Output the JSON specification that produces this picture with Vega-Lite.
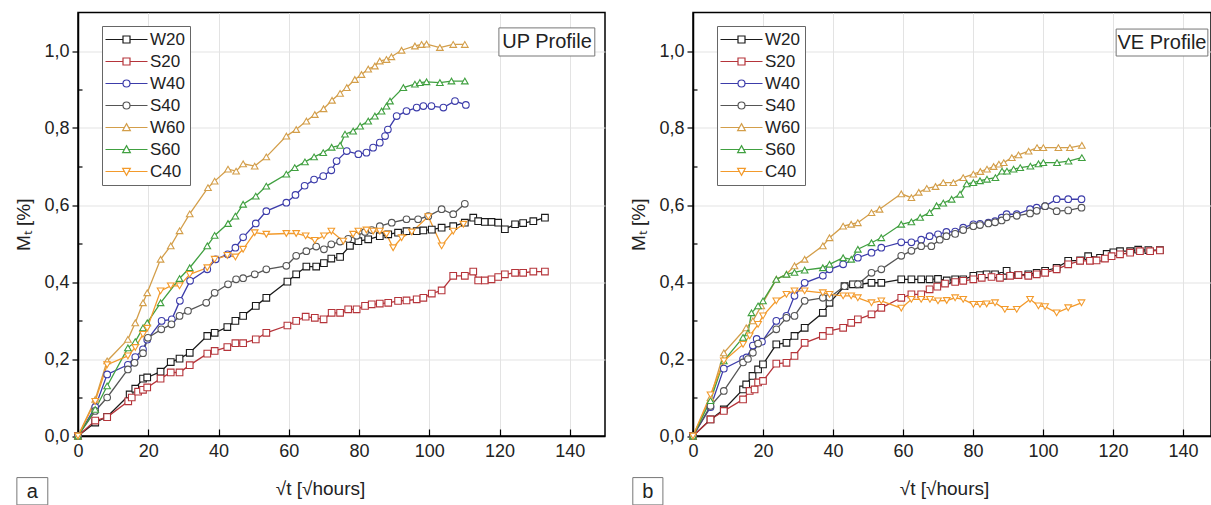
{
"$schema":"https://vega.github.io/schema/vega-lite/v6.json",
"padding":{"left":14,"top":11.5,"right":0,"bottom":0},
"bounds":"flush",
"spacing":88,
"config":{
 "font":"Liberation Sans",
 "view":{"stroke":"#000","strokeWidth":1.5},
 "axis":{"domainColor":"#000","domainWidth":1.5,"tickColor":"#000","tickWidth":1.2,"labelFont":"Liberation Sans","labelFontSize":18,"labelColor":"#222","titleFont":"Liberation Sans","titleFontSize":19,"titleFontWeight":"normal","titleColor":"#222","gridColor":"#e3e3e3","gridWidth":1,"labelFlush":false,"labelOverlap":false}
},
"datasets":{
"up":[
{"s":"W20","x":0,"y":0},{"s":"W20","x":4.9,"y":0.035},{"s":"W20","x":8.3,"y":0.05},{"s":"W20","x":14.7,"y":0.108},{"s":"W20","x":16.3,"y":0.123},{"s":"W20","x":18.5,"y":0.149},{"s":"W20","x":19.7,"y":0.152},{"s":"W20","x":23.5,"y":0.167},{"s":"W20","x":26.4,"y":0.192},{"s":"W20","x":28.9,"y":0.201},{"s":"W20","x":31.8,"y":0.216},{"s":"W20","x":36.8,"y":0.26},{"s":"W20","x":38.9,"y":0.268},{"s":"W20","x":42.5,"y":0.283},{"s":"W20","x":44.8,"y":0.299},{"s":"W20","x":47,"y":0.312},{"s":"W20","x":50.6,"y":0.338},{"s":"W20","x":53.6,"y":0.359},{"s":"W20","x":59.6,"y":0.401},{"s":"W20","x":62.1,"y":0.42},{"s":"W20","x":65,"y":0.44},{"s":"W20","x":67.8,"y":0.44},{"s":"W20","x":70,"y":0.449},{"s":"W20","x":72.1,"y":0.461},{"s":"W20","x":74.6,"y":0.465},{"s":"W20","x":77.4,"y":0.494},{"s":"W20","x":79.8,"y":0.506},{"s":"W20","x":82.6,"y":0.511},{"s":"W20","x":85.9,"y":0.519},{"s":"W20","x":88.3,"y":0.524},{"s":"W20","x":91.1,"y":0.528},{"s":"W20","x":93.5,"y":0.532},{"s":"W20","x":96.4,"y":0.532},{"s":"W20","x":98.3,"y":0.534},{"s":"W20","x":100.7,"y":0.536},{"s":"W20","x":103.5,"y":0.541},{"s":"W20","x":106.8,"y":0.545},{"s":"W20","x":110.1,"y":0.554},{"s":"W20","x":112.5,"y":0.567},{"s":"W20","x":113.9,"y":0.558},{"s":"W20","x":115.8,"y":0.556},{"s":"W20","x":117.7,"y":0.556},{"s":"W20","x":119.6,"y":0.554},{"s":"W20","x":121.5,"y":0.537},{"s":"W20","x":124.4,"y":0.55},{"s":"W20","x":126.7,"y":0.553},{"s":"W20","x":129.6,"y":0.558},{"s":"W20","x":132.9,"y":0.567},
{"s":"S20","x":0,"y":0},{"s":"S20","x":4.9,"y":0.04},{"s":"S20","x":8.3,"y":0.049},{"s":"S20","x":14.3,"y":0.09},{"s":"S20","x":15.3,"y":0.1},{"s":"S20","x":17.1,"y":0.115},{"s":"S20","x":18.5,"y":0.12},{"s":"S20","x":19.7,"y":0.126},{"s":"S20","x":23.5,"y":0.149},{"s":"S20","x":26.4,"y":0.165},{"s":"S20","x":28.9,"y":0.165},{"s":"S20","x":31.8,"y":0.184},{"s":"S20","x":36.8,"y":0.214},{"s":"S20","x":38.9,"y":0.221},{"s":"S20","x":42.5,"y":0.231},{"s":"S20","x":44.8,"y":0.241},{"s":"S20","x":47,"y":0.241},{"s":"S20","x":50.6,"y":0.251},{"s":"S20","x":53.6,"y":0.268},{"s":"S20","x":59.6,"y":0.287},{"s":"S20","x":62.1,"y":0.299},{"s":"S20","x":64.8,"y":0.31},{"s":"S20","x":67.4,"y":0.307},{"s":"S20","x":69.9,"y":0.303},{"s":"S20","x":72.2,"y":0.32},{"s":"S20","x":74.6,"y":0.32},{"s":"S20","x":76.9,"y":0.329},{"s":"S20","x":79.3,"y":0.329},{"s":"S20","x":81.7,"y":0.338},{"s":"S20","x":83.6,"y":0.342},{"s":"S20","x":85.9,"y":0.344},{"s":"S20","x":88.3,"y":0.346},{"s":"S20","x":91.1,"y":0.351},{"s":"S20","x":93.5,"y":0.352},{"s":"S20","x":96.4,"y":0.355},{"s":"S20","x":98.3,"y":0.359},{"s":"S20","x":100.7,"y":0.37},{"s":"S20","x":103.5,"y":0.378},{"s":"S20","x":106.8,"y":0.416},{"s":"S20","x":110.1,"y":0.416},{"s":"S20","x":112.5,"y":0.427},{"s":"S20","x":113.9,"y":0.404},{"s":"S20","x":115.8,"y":0.404},{"s":"S20","x":117.7,"y":0.407},{"s":"S20","x":119.6,"y":0.413},{"s":"S20","x":121.5,"y":0.42},{"s":"S20","x":124.4,"y":0.424},{"s":"S20","x":126.7,"y":0.424},{"s":"S20","x":129.6,"y":0.427},{"s":"S20","x":132.9,"y":0.427},
{"s":"W40","x":0,"y":0},{"s":"W40","x":4.9,"y":0.075},{"s":"W40","x":8.3,"y":0.16},{"s":"W40","x":14.2,"y":0.185},{"s":"W40","x":16.3,"y":0.205},{"s":"W40","x":18.5,"y":0.225},{"s":"W40","x":19.7,"y":0.25},{"s":"W40","x":23.8,"y":0.299},{"s":"W40","x":26.7,"y":0.303},{"s":"W40","x":29,"y":0.351},{"s":"W40","x":31.9,"y":0.403},{"s":"W40","x":36.8,"y":0.433},{"s":"W40","x":39.2,"y":0.459},{"s":"W40","x":42.6,"y":0.472},{"s":"W40","x":44.8,"y":0.489},{"s":"W40","x":47,"y":0.516},{"s":"W40","x":50.6,"y":0.552},{"s":"W40","x":53.6,"y":0.584},{"s":"W40","x":59.3,"y":0.606},{"s":"W40","x":61.9,"y":0.626},{"s":"W40","x":64.5,"y":0.65},{"s":"W40","x":67.2,"y":0.666},{"s":"W40","x":69.8,"y":0.675},{"s":"W40","x":72.1,"y":0.69},{"s":"W40","x":73.6,"y":0.714},{"s":"W40","x":76.5,"y":0.74},{"s":"W40","x":79.8,"y":0.732},{"s":"W40","x":82.1,"y":0.736},{"s":"W40","x":84,"y":0.749},{"s":"W40","x":85.9,"y":0.762},{"s":"W40","x":87.4,"y":0.779},{"s":"W40","x":88.2,"y":0.796},{"s":"W40","x":90.7,"y":0.831},{"s":"W40","x":93.5,"y":0.844},{"s":"W40","x":96.4,"y":0.853},{"s":"W40","x":98.3,"y":0.857},{"s":"W40","x":100.6,"y":0.857},{"s":"W40","x":104,"y":0.853},{"s":"W40","x":107.3,"y":0.87},{"s":"W40","x":110.4,"y":0.86},
{"s":"S40","x":0,"y":0},{"s":"S40","x":4.9,"y":0.065},{"s":"S40","x":8.3,"y":0.1},{"s":"S40","x":14.2,"y":0.173},{"s":"S40","x":16.1,"y":0.19},{"s":"S40","x":18.5,"y":0.215},{"s":"S40","x":19.9,"y":0.255},{"s":"S40","x":23.7,"y":0.277},{"s":"S40","x":26.6,"y":0.29},{"s":"S40","x":28.9,"y":0.312},{"s":"S40","x":31.3,"y":0.325},{"s":"S40","x":36.5,"y":0.346},{"s":"S40","x":38.9,"y":0.372},{"s":"S40","x":42.7,"y":0.394},{"s":"S40","x":45,"y":0.407},{"s":"S40","x":47,"y":0.41},{"s":"S40","x":50.3,"y":0.42},{"s":"S40","x":53.6,"y":0.433},{"s":"S40","x":59.3,"y":0.442},{"s":"S40","x":62.1,"y":0.468},{"s":"S40","x":65,"y":0.48},{"s":"S40","x":67.8,"y":0.492},{"s":"S40","x":70,"y":0.485},{"s":"S40","x":72.1,"y":0.498},{"s":"S40","x":74.6,"y":0.505},{"s":"S40","x":76.9,"y":0.512},{"s":"S40","x":79.3,"y":0.52},{"s":"S40","x":81.7,"y":0.53},{"s":"S40","x":83.6,"y":0.535},{"s":"S40","x":85.9,"y":0.545},{"s":"S40","x":89.3,"y":0.554},{"s":"S40","x":93.5,"y":0.563},{"s":"S40","x":96.8,"y":0.563},{"s":"S40","x":99.7,"y":0.571},{"s":"S40","x":103.5,"y":0.589},{"s":"S40","x":106.8,"y":0.576},{"s":"S40","x":110.1,"y":0.603},
{"s":"W60","x":0,"y":0},{"s":"W60","x":4.9,"y":0.095},{"s":"W60","x":8.3,"y":0.195},{"s":"W60","x":14.2,"y":0.251},{"s":"W60","x":16.3,"y":0.294},{"s":"W60","x":18.5,"y":0.346},{"s":"W60","x":19.7,"y":0.372},{"s":"W60","x":23.5,"y":0.459},{"s":"W60","x":26.4,"y":0.494},{"s":"W60","x":28.9,"y":0.533},{"s":"W60","x":31.8,"y":0.577},{"s":"W60","x":37,"y":0.645},{"s":"W60","x":38.9,"y":0.662},{"s":"W60","x":42.7,"y":0.693},{"s":"W60","x":45,"y":0.688},{"s":"W60","x":47,"y":0.707},{"s":"W60","x":50.3,"y":0.701},{"s":"W60","x":53.6,"y":0.725},{"s":"W60","x":59.3,"y":0.779},{"s":"W60","x":62.1,"y":0.796},{"s":"W60","x":65,"y":0.818},{"s":"W60","x":67.4,"y":0.835},{"s":"W60","x":69.9,"y":0.85},{"s":"W60","x":72.3,"y":0.872},{"s":"W60","x":74.6,"y":0.89},{"s":"W60","x":76.5,"y":0.905},{"s":"W60","x":78.8,"y":0.926},{"s":"W60","x":80.7,"y":0.939},{"s":"W60","x":82.6,"y":0.953},{"s":"W60","x":84.5,"y":0.961},{"s":"W60","x":85.9,"y":0.974},{"s":"W60","x":87.8,"y":0.978},{"s":"W60","x":89.2,"y":0.985},{"s":"W60","x":92.1,"y":1.002},{"s":"W60","x":95.9,"y":1.013},{"s":"W60","x":97.8,"y":1.017},{"s":"W60","x":99.2,"y":1.018},{"s":"W60","x":103,"y":1.009},{"s":"W60","x":106.8,"y":1.017},{"s":"W60","x":110.1,"y":1.017},
{"s":"S60","x":0,"y":0},{"s":"S60","x":4.9,"y":0.069},{"s":"S60","x":8.3,"y":0.13},{"s":"S60","x":14.2,"y":0.229},{"s":"S60","x":16.3,"y":0.245},{"s":"S60","x":18.5,"y":0.281},{"s":"S60","x":19.7,"y":0.294},{"s":"S60","x":23.5,"y":0.346},{"s":"S60","x":28.9,"y":0.409},{"s":"S60","x":31.8,"y":0.437},{"s":"S60","x":36.8,"y":0.494},{"s":"S60","x":38.9,"y":0.521},{"s":"S60","x":42.7,"y":0.552},{"s":"S60","x":44.8,"y":0.571},{"s":"S60","x":47,"y":0.602},{"s":"S60","x":50.6,"y":0.623},{"s":"S60","x":53.6,"y":0.649},{"s":"S60","x":59.3,"y":0.68},{"s":"S60","x":61.7,"y":0.697},{"s":"S60","x":64.6,"y":0.712},{"s":"S60","x":67.2,"y":0.725},{"s":"S60","x":69.8,"y":0.736},{"s":"S60","x":72.2,"y":0.75},{"s":"S60","x":74.6,"y":0.755},{"s":"S60","x":76,"y":0.784},{"s":"S60","x":78.3,"y":0.792},{"s":"S60","x":80.3,"y":0.805},{"s":"S60","x":82.6,"y":0.818},{"s":"S60","x":84.5,"y":0.831},{"s":"S60","x":86.4,"y":0.844},{"s":"S60","x":87.8,"y":0.857},{"s":"S60","x":88.8,"y":0.87},{"s":"S60","x":92.6,"y":0.905},{"s":"S60","x":95.9,"y":0.914},{"s":"S60","x":97.3,"y":0.918},{"s":"S60","x":99.2,"y":0.92},{"s":"S60","x":103,"y":0.918},{"s":"S60","x":106.3,"y":0.922},{"s":"S60","x":110.1,"y":0.922},
{"s":"C40","x":0,"y":0},{"s":"C40","x":4.9,"y":0.09},{"s":"C40","x":8.3,"y":0.185},{"s":"C40","x":14.2,"y":0.208},{"s":"C40","x":16.3,"y":0.23},{"s":"C40","x":18.5,"y":0.264},{"s":"C40","x":19.7,"y":0.28},{"s":"C40","x":23.5,"y":0.377},{"s":"C40","x":26.4,"y":0.39},{"s":"C40","x":28.9,"y":0.39},{"s":"C40","x":31.8,"y":0.42},{"s":"C40","x":36.8,"y":0.437},{"s":"C40","x":38.9,"y":0.459},{"s":"C40","x":42.5,"y":0.469},{"s":"C40","x":44.8,"y":0.465},{"s":"C40","x":47,"y":0.485},{"s":"C40","x":50.3,"y":0.528},{"s":"C40","x":53.6,"y":0.524},{"s":"C40","x":59.3,"y":0.526},{"s":"C40","x":62.1,"y":0.526},{"s":"C40","x":64.8,"y":0.52},{"s":"C40","x":67.4,"y":0.508},{"s":"C40","x":70,"y":0.52},{"s":"C40","x":72.1,"y":0.532},{"s":"C40","x":75.5,"y":0.506},{"s":"C40","x":78.3,"y":0.524},{"s":"C40","x":79.8,"y":0.532},{"s":"C40","x":82.1,"y":0.535},{"s":"C40","x":84,"y":0.532},{"s":"C40","x":85.9,"y":0.532},{"s":"C40","x":87.8,"y":0.524},{"s":"C40","x":89.7,"y":0.489},{"s":"C40","x":92.1,"y":0.515},{"s":"C40","x":95,"y":0.53},{"s":"C40","x":99.7,"y":0.57},{"s":"C40","x":103.5,"y":0.494},{"s":"C40","x":106.8,"y":0.532},{"s":"C40","x":109.7,"y":0.55}
],
"ve":[
{"s":"W20","x":0,"y":0},{"s":"W20","x":5,"y":0.043},{"s":"W20","x":8.8,"y":0.069},{"s":"W20","x":14.3,"y":0.121},{"s":"W20","x":15.2,"y":0.134},{"s":"W20","x":17,"y":0.156},{"s":"W20","x":18.6,"y":0.173},{"s":"W20","x":20,"y":0.186},{"s":"W20","x":23.8,"y":0.238},{"s":"W20","x":26.7,"y":0.242},{"s":"W20","x":29,"y":0.26},{"s":"W20","x":31.9,"y":0.281},{"s":"W20","x":37.1,"y":0.32},{"s":"W20","x":39,"y":0.346},{"s":"W20","x":43.3,"y":0.389},{"s":"W20","x":45.7,"y":0.394},{"s":"W20","x":47.6,"y":0.394},{"s":"W20","x":51,"y":0.398},{"s":"W20","x":53.8,"y":0.398},{"s":"W20","x":59.5,"y":0.407},{"s":"W20","x":62.4,"y":0.407},{"s":"W20","x":65.2,"y":0.407},{"s":"W20","x":67.6,"y":0.407},{"s":"W20","x":70,"y":0.408},{"s":"W20","x":72.5,"y":0.404},{"s":"W20","x":74.9,"y":0.407},{"s":"W20","x":77.2,"y":0.407},{"s":"W20","x":80.1,"y":0.416},{"s":"W20","x":82,"y":0.418},{"s":"W20","x":83.9,"y":0.42},{"s":"W20","x":86.3,"y":0.42},{"s":"W20","x":88.6,"y":0.416},{"s":"W20","x":89.6,"y":0.429},{"s":"W20","x":92.9,"y":0.418},{"s":"W20","x":95.8,"y":0.42},{"s":"W20","x":98.2,"y":0.424},{"s":"W20","x":100.6,"y":0.429},{"s":"W20","x":103.9,"y":0.437},{"s":"W20","x":107.2,"y":0.455},{"s":"W20","x":110.6,"y":0.456},{"s":"W20","x":112.9,"y":0.467},{"s":"W20","x":116.3,"y":0.463},{"s":"W20","x":118.2,"y":0.473},{"s":"W20","x":120.1,"y":0.477},{"s":"W20","x":122,"y":0.48},{"s":"W20","x":124.9,"y":0.48},{"s":"W20","x":127.2,"y":0.484},{"s":"W20","x":130.1,"y":0.483},{"s":"W20","x":133.4,"y":0.483},
{"s":"S20","x":0,"y":0},{"s":"S20","x":5,"y":0.043},{"s":"S20","x":8.8,"y":0.065},{"s":"S20","x":14.3,"y":0.095},{"s":"S20","x":16.2,"y":0.117},{"s":"S20","x":17.6,"y":0.121},{"s":"S20","x":18.6,"y":0.139},{"s":"S20","x":20,"y":0.143},{"s":"S20","x":23.8,"y":0.188},{"s":"S20","x":26.7,"y":0.19},{"s":"S20","x":29,"y":0.208},{"s":"S20","x":31.9,"y":0.242},{"s":"S20","x":37.1,"y":0.26},{"s":"S20","x":39,"y":0.273},{"s":"S20","x":42.9,"y":0.281},{"s":"S20","x":45.2,"y":0.294},{"s":"S20","x":47.1,"y":0.303},{"s":"S20","x":51,"y":0.316},{"s":"S20","x":53.8,"y":0.333},{"s":"S20","x":59.5,"y":0.359},{"s":"S20","x":62.4,"y":0.368},{"s":"S20","x":65.2,"y":0.368},{"s":"S20","x":67.6,"y":0.381},{"s":"S20","x":69.8,"y":0.388},{"s":"S20","x":72,"y":0.396},{"s":"S20","x":74.9,"y":0.4},{"s":"S20","x":77.2,"y":0.403},{"s":"S20","x":80.1,"y":0.407},{"s":"S20","x":82.5,"y":0.411},{"s":"S20","x":85.3,"y":0.413},{"s":"S20","x":87.7,"y":0.411},{"s":"S20","x":90.6,"y":0.416},{"s":"S20","x":93,"y":0.418},{"s":"S20","x":95.8,"y":0.416},{"s":"S20","x":98.2,"y":0.42},{"s":"S20","x":100.6,"y":0.424},{"s":"S20","x":103.9,"y":0.433},{"s":"S20","x":107.2,"y":0.446},{"s":"S20","x":110.6,"y":0.455},{"s":"S20","x":113.4,"y":0.455},{"s":"S20","x":115.3,"y":0.456},{"s":"S20","x":117.7,"y":0.461},{"s":"S20","x":119.6,"y":0.467},{"s":"S20","x":122,"y":0.472},{"s":"S20","x":124.9,"y":0.476},{"s":"S20","x":127.7,"y":0.48},{"s":"S20","x":130.6,"y":0.48},{"s":"S20","x":133.4,"y":0.482},
{"s":"W40","x":0,"y":0},{"s":"W40","x":5,"y":0.075},{"s":"W40","x":8.8,"y":0.175},{"s":"W40","x":14.3,"y":0.2},{"s":"W40","x":15.3,"y":0.204},{"s":"W40","x":17.1,"y":0.235},{"s":"W40","x":18.2,"y":0.252},{"s":"W40","x":19.7,"y":0.245},{"s":"W40","x":23.8,"y":0.299},{"s":"W40","x":26.7,"y":0.312},{"s":"W40","x":29,"y":0.364},{"s":"W40","x":31.9,"y":0.398},{"s":"W40","x":37.1,"y":0.416},{"s":"W40","x":39,"y":0.433},{"s":"W40","x":42.9,"y":0.446},{"s":"W40","x":47.1,"y":0.463},{"s":"W40","x":51,"y":0.476},{"s":"W40","x":53.8,"y":0.489},{"s":"W40","x":59.5,"y":0.503},{"s":"W40","x":62.4,"y":0.503},{"s":"W40","x":65.2,"y":0.51},{"s":"W40","x":67.6,"y":0.519},{"s":"W40","x":70,"y":0.524},{"s":"W40","x":72.4,"y":0.53},{"s":"W40","x":74.9,"y":0.531},{"s":"W40","x":77.2,"y":0.541},{"s":"W40","x":80.1,"y":0.55},{"s":"W40","x":82,"y":0.551},{"s":"W40","x":84.4,"y":0.554},{"s":"W40","x":86.3,"y":0.558},{"s":"W40","x":88.2,"y":0.567},{"s":"W40","x":89.6,"y":0.576},{"s":"W40","x":92.5,"y":0.576},{"s":"W40","x":96.3,"y":0.589},{"s":"W40","x":98.2,"y":0.593},{"s":"W40","x":100.6,"y":0.597},{"s":"W40","x":103.9,"y":0.615},{"s":"W40","x":107.2,"y":0.615},{"s":"W40","x":111,"y":0.615},
{"s":"S40","x":0,"y":0},{"s":"S40","x":5,"y":0.078},{"s":"S40","x":8.8,"y":0.117},{"s":"S40","x":14.3,"y":0.191},{"s":"S40","x":15.7,"y":0.2},{"s":"S40","x":17.1,"y":0.216},{"s":"S40","x":18.6,"y":0.24},{"s":"S40","x":23.8,"y":0.277},{"s":"S40","x":26.7,"y":0.307},{"s":"S40","x":29,"y":0.312},{"s":"S40","x":31.9,"y":0.351},{"s":"S40","x":37.1,"y":0.359},{"s":"S40","x":39,"y":0.36},{"s":"S40","x":43.3,"y":0.389},{"s":"S40","x":47.1,"y":0.394},{"s":"S40","x":51,"y":0.424},{"s":"S40","x":53.8,"y":0.433},{"s":"S40","x":59.5,"y":0.468},{"s":"S40","x":62.4,"y":0.481},{"s":"S40","x":65.2,"y":0.493},{"s":"S40","x":68.1,"y":0.493},{"s":"S40","x":70.5,"y":0.51},{"s":"S40","x":72.4,"y":0.519},{"s":"S40","x":74.9,"y":0.525},{"s":"S40","x":77.2,"y":0.535},{"s":"S40","x":80.1,"y":0.545},{"s":"S40","x":82,"y":0.548},{"s":"S40","x":84.4,"y":0.552},{"s":"S40","x":86.3,"y":0.555},{"s":"S40","x":88.2,"y":0.56},{"s":"S40","x":89.6,"y":0.568},{"s":"S40","x":92.5,"y":0.572},{"s":"S40","x":96.3,"y":0.578},{"s":"S40","x":98.2,"y":0.585},{"s":"S40","x":100.6,"y":0.597},{"s":"S40","x":103.9,"y":0.584},{"s":"S40","x":107.2,"y":0.586},{"s":"S40","x":111,"y":0.593},
{"s":"W60","x":0,"y":0},{"s":"W60","x":5,"y":0.1},{"s":"W60","x":8.8,"y":0.216},{"s":"W60","x":15.2,"y":0.281},{"s":"W60","x":17.1,"y":0.299},{"s":"W60","x":19.5,"y":0.338},{"s":"W60","x":23.8,"y":0.407},{"s":"W60","x":26.7,"y":0.42},{"s":"W60","x":29,"y":0.442},{"s":"W60","x":31.9,"y":0.459},{"s":"W60","x":37.1,"y":0.494},{"s":"W60","x":39,"y":0.515},{"s":"W60","x":42.9,"y":0.545},{"s":"W60","x":45.2,"y":0.55},{"s":"W60","x":47.1,"y":0.554},{"s":"W60","x":51,"y":0.58},{"s":"W60","x":53.3,"y":0.589},{"s":"W60","x":59.5,"y":0.629},{"s":"W60","x":62.4,"y":0.619},{"s":"W60","x":64.5,"y":0.633},{"s":"W60","x":66.8,"y":0.643},{"s":"W60","x":69.3,"y":0.648},{"s":"W60","x":71.5,"y":0.658},{"s":"W60","x":74.4,"y":0.658},{"s":"W60","x":77.2,"y":0.671},{"s":"W60","x":80.1,"y":0.68},{"s":"W60","x":82.1,"y":0.687},{"s":"W60","x":84,"y":0.693},{"s":"W60","x":85.9,"y":0.7},{"s":"W60","x":87.4,"y":0.706},{"s":"W60","x":88.8,"y":0.71},{"s":"W60","x":91.1,"y":0.723},{"s":"W60","x":93,"y":0.73},{"s":"W60","x":95.9,"y":0.74},{"s":"W60","x":98.3,"y":0.749},{"s":"W60","x":100.1,"y":0.749},{"s":"W60","x":104.4,"y":0.749},{"s":"W60","x":107.7,"y":0.749},{"s":"W60","x":111.1,"y":0.755},
{"s":"S60","x":0,"y":0},{"s":"S60","x":5,"y":0.092},{"s":"S60","x":8.8,"y":0.195},{"s":"S60","x":14.3,"y":0.256},{"s":"S60","x":15.7,"y":0.268},{"s":"S60","x":16.7,"y":0.32},{"s":"S60","x":18.6,"y":0.338},{"s":"S60","x":20,"y":0.351},{"s":"S60","x":23.8,"y":0.407},{"s":"S60","x":26.7,"y":0.42},{"s":"S60","x":29,"y":0.425},{"s":"S60","x":31.9,"y":0.431},{"s":"S60","x":37.1,"y":0.437},{"s":"S60","x":39,"y":0.446},{"s":"S60","x":42.9,"y":0.463},{"s":"S60","x":45.2,"y":0.459},{"s":"S60","x":47.1,"y":0.485},{"s":"S60","x":51,"y":0.502},{"s":"S60","x":53.8,"y":0.515},{"s":"S60","x":59.5,"y":0.55},{"s":"S60","x":62.4,"y":0.556},{"s":"S60","x":64.9,"y":0.568},{"s":"S60","x":67.6,"y":0.58},{"s":"S60","x":69.6,"y":0.598},{"s":"S60","x":71.5,"y":0.605},{"s":"S60","x":73.9,"y":0.615},{"s":"S60","x":76.3,"y":0.628},{"s":"S60","x":78.2,"y":0.655},{"s":"S60","x":80.1,"y":0.658},{"s":"S60","x":82,"y":0.663},{"s":"S60","x":84,"y":0.667},{"s":"S60","x":86.4,"y":0.671},{"s":"S60","x":88.3,"y":0.688},{"s":"S60","x":89.7,"y":0.688},{"s":"S60","x":91.6,"y":0.693},{"s":"S60","x":93.5,"y":0.697},{"s":"S60","x":96.4,"y":0.701},{"s":"S60","x":98.7,"y":0.707},{"s":"S60","x":100.1,"y":0.71},{"s":"S60","x":104,"y":0.71},{"s":"S60","x":107.3,"y":0.714},{"s":"S60","x":111.1,"y":0.723},
{"s":"C40","x":0,"y":0},{"s":"C40","x":5,"y":0.107},{"s":"C40","x":8.8,"y":0.195},{"s":"C40","x":14.3,"y":0.238},{"s":"C40","x":16.2,"y":0.26},{"s":"C40","x":18.6,"y":0.29},{"s":"C40","x":20,"y":0.312},{"s":"C40","x":23.8,"y":0.351},{"s":"C40","x":26.7,"y":0.368},{"s":"C40","x":29,"y":0.377},{"s":"C40","x":31.9,"y":0.377},{"s":"C40","x":37.1,"y":0.372},{"s":"C40","x":39,"y":0.368},{"s":"C40","x":42.9,"y":0.364},{"s":"C40","x":45.2,"y":0.364},{"s":"C40","x":47.1,"y":0.359},{"s":"C40","x":51,"y":0.346},{"s":"C40","x":53.8,"y":0.351},{"s":"C40","x":59.5,"y":0.332},{"s":"C40","x":62.4,"y":0.355},{"s":"C40","x":65.2,"y":0.355},{"s":"C40","x":67.7,"y":0.355},{"s":"C40","x":70,"y":0.351},{"s":"C40","x":72.5,"y":0.352},{"s":"C40","x":74.9,"y":0.359},{"s":"C40","x":77.2,"y":0.355},{"s":"C40","x":80.1,"y":0.342},{"s":"C40","x":82,"y":0.342},{"s":"C40","x":83.9,"y":0.343},{"s":"C40","x":86.3,"y":0.346},{"s":"C40","x":89.1,"y":0.329},{"s":"C40","x":92.5,"y":0.329},{"s":"C40","x":96.3,"y":0.355},{"s":"C40","x":98.7,"y":0.338},{"s":"C40","x":100.6,"y":0.336},{"s":"C40","x":103.9,"y":0.32},{"s":"C40","x":107.2,"y":0.333},{"s":"C40","x":111,"y":0.346}
]
},
"hconcat":[
{
 "width":527,"height":423.5,
 "layer":[
  {"data":{"name":"up"},
   "encoding":{
    "x":{"field":"x","type":"quantitative","scale":{"domain":[0,150],"nice":false,"zero":false},"axis":{"values":[0,10,20,30,40,50,60,70,80,90,100,110,120,130,140,150],"labelExpr":"datum.value % 20 == 0 ? datum.value : ''","tickSize":{"condition":{"test":"datum.value % 20 == 0","value":-7},"value":-4},"labelPadding":13,"title":"√t  [√hours]","titleX":242,"titlePadding":19}},
    "y":{"field":"y","type":"quantitative","scale":{"domain":[0,1.1],"nice":false,"zero":false},"axis":{"values":[0,0.1,0.2,0.3,0.4,0.5,0.6,0.7,0.8,0.9,1.0],"labelExpr":"round(datum.value*10)%2==0 ? replace(format(datum.value,'.1f'),'.',',') : ''","tickSize":{"condition":{"test":"round(datum.value*10)%2==0","value":6},"value":-4},"gridOpacity":{"condition":{"test":"round(datum.value*10)%2==0","value":1},"value":0},"labelPadding":3,"title":"Mₜ [%]","titlePadding":10}},
    "color":{"field":"s","type":"nominal","scale":{"domain":["W20","S20","W40","S40","W60","S60","C40"],"range":["#1a1a1a","#b5343a","#3c3caa","#555555","#d39e4a","#40a040","#f39a2b"]},"legend":null}
   },
   "layer":[
    {"mark":{"type":"line","strokeWidth":1.3}},
    {"mark":{"type":"point","filled":false,"fill":"white","strokeWidth":1.1,"size":44,"opacity":1},"encoding":{"shape":{"field":"s","type":"nominal","scale":{"domain":["W20","S20","W40","S40","W60","S60","C40"],"range":["square","square","circle","circle","triangle-up","triangle-up","triangle-down"]},"legend":null}}}
  ]},
  {"data":{"name":"up"},"transform":[{"filter":"false"}],
   "mark":{"type":"point","filled":false,"fill":"white","strokeWidth":1.2,"opacity":1},
   "encoding":{
    "color":{"field":"s","type":"nominal","scale":{"domain":["W20","S20","W40","S40","W60","S60","C40"],"range":["#1a1a1a","#b5343a","#3c3caa","#555555","#d39e4a","#40a040","#f39a2b"]},"legend":{"title":null,"orient":"none","legendX":24,"legendY":13.5,"symbolSize":196,"symbolOffset":11,"labelOffset":15,"labelFontSize":17,"labelFont":"Liberation Sans","labelColor":"#222","rowPadding":4,"padding":5,"strokeColor":"#666","fillColor":"white","symbolStrokeWidth":1.2}},
    "shape":{"field":"s","type":"nominal","scale":{"domain":["W20","S20","W40","S40","W60","S60","C40"],"range":["M-3,0H-0.5M0.5,0H3M-0.5,-0.5H0.5V0.5H-0.5Z","M-3,0H-0.5M0.5,0H3M-0.5,-0.5H0.5V0.5H-0.5Z","M-3,0H-0.5M0.5,0H3M-0.5,0A0.5,0.5,0,1,0,0.5,0A0.5,0.5,0,1,0,-0.5,0Z","M-3,0H-0.5M0.5,0H3M-0.5,0A0.5,0.5,0,1,0,0.5,0A0.5,0.5,0,1,0,-0.5,0Z","M-3,0H-0.3M0.3,0H3M0,-0.55L0.55,0.45H-0.55Z","M-3,0H-0.3M0.3,0H3M0,-0.55L0.55,0.45H-0.55Z","M-3,0H-0.3M0.3,0H3M0,0.55L0.55,-0.45H-0.55Z"]},"legend":{"title":null,"orient":"none","legendX":24,"legendY":13.5,"symbolSize":196,"symbolOffset":11,"labelOffset":15,"labelFontSize":17,"labelFont":"Liberation Sans","labelColor":"#222","rowPadding":4,"padding":5,"strokeColor":"#666","fillColor":"white","symbolStrokeWidth":1.2}}
   }},
  {"data":{"values":[{"t":"UP Profile"}]},"mark":{"type":"rect","fill":"white","stroke":"#777","strokeWidth":1},"encoding":{"x":{"datum":119.8},"x2":{"datum":147.1},"y":{"datum":1.06},"y2":{"datum":0.987}}},
  {"data":{"values":[{"t":"UP Profile"}]},"mark":{"type":"text","fontSize":20,"font":"Liberation Sans","color":"#222"},"encoding":{"x":{"datum":133.5},"y":{"datum":1.023},"text":{"field":"t"}}},
  {"data":{"values":[{"t":"a"}]},"mark":{"type":"rect","fill":"white","stroke":"#777","strokeWidth":1},"encoding":{"x":{"datum":-17.4},"x2":{"datum":-8.6},"y":{"datum":-0.108},"y2":{"datum":-0.179}}},
  {"data":{"values":[{"t":"a"}]},"mark":{"type":"text","fontSize":20,"font":"Liberation Sans","color":"#222"},"encoding":{"x":{"datum":-13},"y":{"datum":-0.146},"text":{"field":"t"}}}
 ],
 "resolve":{"scale":{"color":"independent","shape":"independent"}}
},
{
 "width":518,"height":423.5,
 "layer":[
  {"data":{"name":"ve"},
   "encoding":{
    "x":{"field":"x","type":"quantitative","scale":{"domain":[0,148],"nice":false,"zero":false},"axis":{"values":[0,10,20,30,40,50,60,70,80,90,100,110,120,130,140],"labelExpr":"datum.value % 20 == 0 ? datum.value : ''","tickSize":{"condition":{"test":"datum.value % 20 == 0","value":-7},"value":-4},"labelPadding":13,"title":"√t  [√hours]","titleX":251,"titlePadding":19}},
    "y":{"field":"y","type":"quantitative","scale":{"domain":[0,1.1],"nice":false,"zero":false},"axis":{"values":[0,0.1,0.2,0.3,0.4,0.5,0.6,0.7,0.8,0.9,1.0],"labelExpr":"round(datum.value*10)%2==0 ? replace(format(datum.value,'.1f'),'.',',') : ''","tickSize":{"condition":{"test":"round(datum.value*10)%2==0","value":6},"value":-4},"gridOpacity":{"condition":{"test":"round(datum.value*10)%2==0","value":1},"value":0},"labelPadding":3,"title":"Mₜ [%]","titlePadding":10}},
    "color":{"field":"s","type":"nominal","scale":{"domain":["W20","S20","W40","S40","W60","S60","C40"],"range":["#1a1a1a","#b5343a","#3c3caa","#555555","#d39e4a","#40a040","#f39a2b"]},"legend":null}
   },
   "layer":[
    {"mark":{"type":"line","strokeWidth":1.3}},
    {"mark":{"type":"point","filled":false,"fill":"white","strokeWidth":1.1,"size":44,"opacity":1},"encoding":{"shape":{"field":"s","type":"nominal","scale":{"domain":["W20","S20","W40","S40","W60","S60","C40"],"range":["square","square","circle","circle","triangle-up","triangle-up","triangle-down"]},"legend":null}}}
  ]},
  {"data":{"name":"ve"},"transform":[{"filter":"false"}],
   "mark":{"type":"point","filled":false,"fill":"white","strokeWidth":1.2,"opacity":1},
   "encoding":{
    "color":{"field":"s","type":"nominal","scale":{"domain":["W20","S20","W40","S40","W60","S60","C40"],"range":["#1a1a1a","#b5343a","#3c3caa","#555555","#d39e4a","#40a040","#f39a2b"]},"legend":{"title":null,"orient":"none","legendX":24,"legendY":13.5,"symbolSize":196,"symbolOffset":11,"labelOffset":15,"labelFontSize":17,"labelFont":"Liberation Sans","labelColor":"#222","rowPadding":4,"padding":5,"strokeColor":"#666","fillColor":"white","symbolStrokeWidth":1.2}},
    "shape":{"field":"s","type":"nominal","scale":{"domain":["W20","S20","W40","S40","W60","S60","C40"],"range":["M-3,0H-0.5M0.5,0H3M-0.5,-0.5H0.5V0.5H-0.5Z","M-3,0H-0.5M0.5,0H3M-0.5,-0.5H0.5V0.5H-0.5Z","M-3,0H-0.5M0.5,0H3M-0.5,0A0.5,0.5,0,1,0,0.5,0A0.5,0.5,0,1,0,-0.5,0Z","M-3,0H-0.5M0.5,0H3M-0.5,0A0.5,0.5,0,1,0,0.5,0A0.5,0.5,0,1,0,-0.5,0Z","M-3,0H-0.3M0.3,0H3M0,-0.55L0.55,0.45H-0.55Z","M-3,0H-0.3M0.3,0H3M0,-0.55L0.55,0.45H-0.55Z","M-3,0H-0.3M0.3,0H3M0,0.55L0.55,-0.45H-0.55Z"]},"legend":{"title":null,"orient":"none","legendX":24,"legendY":13.5,"symbolSize":196,"symbolOffset":11,"labelOffset":15,"labelFontSize":17,"labelFont":"Liberation Sans","labelColor":"#222","rowPadding":4,"padding":5,"strokeColor":"#666","fillColor":"white","symbolStrokeWidth":1.2}}
   }},
  {"data":{"values":[{"t":"VE Profile"}]},"mark":{"type":"rect","fill":"white","stroke":"#777","strokeWidth":1},"encoding":{"x":{"datum":120.9},"x2":{"datum":147.1},"y":{"datum":1.057},"y2":{"datum":0.987}}},
  {"data":{"values":[{"t":"VE Profile"}]},"mark":{"type":"text","fontSize":20,"font":"Liberation Sans","color":"#222"},"encoding":{"x":{"datum":134},"y":{"datum":1.022},"text":{"field":"t"}}},
  {"data":{"values":[{"t":"b"}]},"mark":{"type":"rect","fill":"white","stroke":"#777","strokeWidth":1},"encoding":{"x":{"datum":-17.2},"x2":{"datum":-8.6},"y":{"datum":-0.108},"y2":{"datum":-0.179}}},
  {"data":{"values":[{"t":"b"}]},"mark":{"type":"text","fontSize":20,"font":"Liberation Sans","color":"#222"},"encoding":{"x":{"datum":-12.9},"y":{"datum":-0.146},"text":{"field":"t"}}}
 ],
 "resolve":{"scale":{"color":"independent","shape":"independent"}}
}
],
"resolve":{"scale":{"color":"independent","shape":"independent"},"legend":{"color":"independent","shape":"independent"}}
}
